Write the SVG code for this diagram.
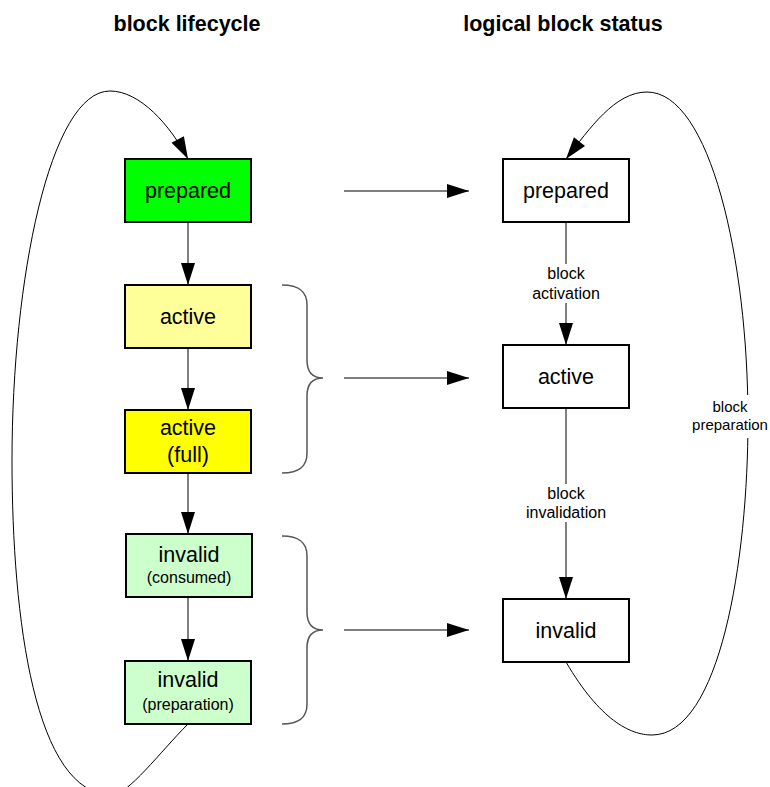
<svg xmlns="http://www.w3.org/2000/svg" width="770" height="787" viewBox="0 0 770 787">
<style>
text{font-family:"Liberation Sans",Arial,sans-serif;fill:#000;text-anchor:middle}
.title{font-size:21.5px;font-weight:bold}
.big{font-size:21.5px}
.small{font-size:16px}
.lbl{font-size:16px}
.box{stroke:#000;stroke-width:2}
.conn{fill:none;stroke:#555;stroke-width:1.5}
.loop{fill:none;stroke:#000;stroke-width:1}
.brace{fill:none;stroke:#555;stroke-width:1.5}
</style>
<defs>
<marker id="ah" markerUnits="userSpaceOnUse" markerWidth="22" markerHeight="14" refX="22" refY="7" orient="auto" overflow="visible">
<path d="M0,0 L22,7 L0,14 z" fill="#000"/>
</marker>
</defs>
<rect width="770" height="787" fill="#fff"/>
<g id="titles">
<text class="title" x="187" y="31">block lifecycle</text>
<text class="title" x="563" y="31">logical block status</text>
</g>
<g id="connectors">
<line class="conn" x1="188" y1="222" x2="188" y2="285" marker-end="url(#ah)"/>
<line class="conn" x1="188" y1="348" x2="188" y2="410" marker-end="url(#ah)"/>
<line class="conn" x1="188" y1="473" x2="188" y2="534" marker-end="url(#ah)"/>
<line class="conn" x1="188" y1="597" x2="188" y2="661" marker-end="url(#ah)"/>
<line class="conn" x1="344" y1="191" x2="469" y2="191" marker-end="url(#ah)"/>
<line class="conn" x1="344" y1="378" x2="469" y2="378" marker-end="url(#ah)"/>
<line class="conn" x1="344" y1="630" x2="469" y2="630" marker-end="url(#ah)"/>
<line class="conn" x1="566" y1="222" x2="566" y2="345" marker-end="url(#ah)"/>
<line class="conn" x1="566" y1="408" x2="566" y2="599" marker-end="url(#ah)"/>
<path class="loop" d="M188,724 C160,752 128,795 112,795 C35,795 12,620 12,460 C12,280 50,91 110,91 C140,91 170,125 188,159" marker-end="url(#ah)"/>
<path class="loop" d="M566,662 C600,720 630,735 652,735 C720,735 748,560 748,420 C748,260 710,92 647,92 C615,92 590,128 566,159" marker-end="url(#ah)"/>
<rect x="526" y="264" width="80" height="39" fill="#fff"/>
<text class="lbl" x="566" y="279">block</text>
<text class="lbl" x="566" y="299">activation</text>
<rect x="518" y="484" width="96" height="38" fill="#fff"/>
<text class="lbl" x="566" y="499">block</text>
<text class="lbl" x="566" y="518">invalidation</text>
<rect x="692" y="395" width="77" height="43" fill="#fff"/>
<text style="font-size:15px" x="730" y="412">block</text>
<text style="font-size:15px" x="730" y="430">preparation</text>
</g>
<g id="braces">
<path class="brace" d="M282,285 C300,285 307,292 307,305 L307,360 C307,372 313,378 323,378 C313,378 307,384 307,396 L307,453 C307,466 300,473 282,473"/>
<path class="brace" d="M282,536 C300,536 307,543 307,556 L307,612 C307,624 313,630 323,630 C313,630 307,636 307,648 L307,704 C307,717 300,724 282,724"/>
</g>
<g id="lc-prepared">
<rect class="box" x="125" y="159" width="126" height="63" fill="#00ff00"/>
<text class="big" x="188" y="198">prepared</text>
</g>
<g id="lc-active">
<rect class="box" x="125" y="285" width="126" height="63" fill="#ffff99"/>
<text class="big" x="188" y="324">active</text>
</g>
<g id="lc-active-full">
<rect class="box" x="125" y="410" width="126" height="63" fill="#ffff00"/>
<text class="big" x="188" y="435">active</text>
<text class="big" x="188" y="462">(full)</text>
</g>
<g id="lc-invalid-consumed">
<rect class="box" x="126" y="534" width="126" height="63" fill="#ccffcc"/>
<text class="big" x="189" y="562">invalid</text>
<text class="small" x="189" y="583">(consumed)</text>
</g>
<g id="lc-invalid-preparation">
<rect class="box" x="125" y="661" width="126" height="63" fill="#ccffcc"/>
<text class="big" x="188" y="687">invalid</text>
<text class="small" x="188" y="710">(preparation)</text>
</g>
<g id="st-prepared">
<rect class="box" x="503" y="159" width="126" height="63" fill="#fff"/>
<text class="big" x="566" y="198">prepared</text>
</g>
<g id="st-active">
<rect class="box" x="503" y="345" width="126" height="63" fill="#fff"/>
<text class="big" x="566" y="384">active</text>
</g>
<g id="st-invalid">
<rect class="box" x="503" y="599" width="126" height="63" fill="#fff"/>
<text class="big" x="566" y="638">invalid</text>
</g>
</svg>
